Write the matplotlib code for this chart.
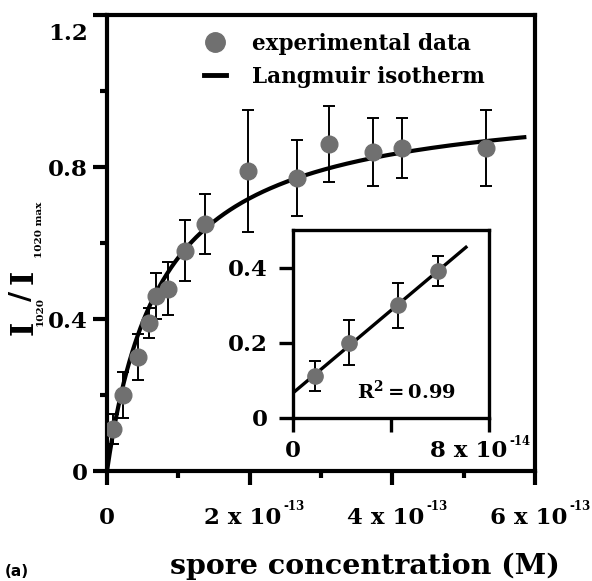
import numpy as np
import matplotlib
matplotlib.use("Agg")
import matplotlib.pyplot as plt
import matplotlib.transforms as mtransforms
from matplotlib.lines import Line2D
from matplotlib.ticker import FixedLocator

# Spore binding data: concentration (M), normalised I1020 signal and its error
conc = np.array([0.09, 0.23, 0.43, 0.59, 0.69, 0.85, 1.10, 1.38,
                 1.97, 2.66, 3.11, 3.73, 4.14, 5.32]) * 1e-13
signal = np.array([0.11, 0.20, 0.30, 0.39, 0.46, 0.48, 0.58, 0.65,
                   0.79, 0.77, 0.86, 0.84, 0.85, 0.85])
signal_err = np.array([0.04, 0.06, 0.06, 0.04, 0.06, 0.07, 0.08, 0.08,
                       0.16, 0.10, 0.10, 0.09, 0.08, 0.10])

# Langmuir isotherm fit parameters
bmax = 0.994
kd = 0.77e-13

# Low-concentration points used for the linear inset
n_low = 4

x_ticks = [0, 2e-13, 4e-13, 6e-13]
x_labels = [("0", ""), ("2 x 10", "-13"), ("4 x 10", "-13"), ("6 x 10", "-13")]
y_ticks = [0, 0.4, 0.8, 1.2]
y_labels = ["0", "0.4", "0.8", "1.2"]
inset_x_ticks = [0, 4e-14, 8e-14]
inset_x_labels = [("0", ""), ("", ""), ("8 x 10", "-14")]
inset_y_ticks = [0, 0.2, 0.4]
inset_y_labels = ["0", "0.2", "0.4"]

plt.rcParams["font.family"] = "DejaVu Serif"
plt.rcParams["font.weight"] = "bold"
plt.rcParams["mathtext.fontset"] = "custom"
plt.rcParams["mathtext.rm"] = "DejaVu Serif:bold"
plt.rcParams["mathtext.bf"] = "DejaVu Serif:bold"

W, H = 592, 581
fig = plt.figure(figsize=(W / 100, H / 100), dpi=100)
renderer = fig.canvas.get_renderer()


def box(left, top, right, bottom):
    return [left / W, 1 - bottom / H, (right - left) / W, (bottom - top) / H]


def sci_ticklabels(axis, ticks, labels, base_dy, sup_dy, size, sup_size, shift):
    # tick labels like "2 x 10^-13" with a small superscript exponent;
    # base + exponent together are centred on the tick (plus shift pixels)
    trans = mtransforms.blended_transform_factory(axis.transData, axis.transAxes)
    for t, (base, sup) in zip(ticks, labels):
        if not base:
            continue
        kw = dict(xy=(t, 0), xycoords=trans, textcoords="offset pixels",
                  fontweight="bold", annotation_clip=False, va="center")
        if not sup:
            axis.annotate(base, xytext=(0, base_dy), ha="center", fontsize=size, **kw)
            continue
        b = axis.annotate(base, xytext=(0, base_dy), ha="left", fontsize=size, **kw)
        s = axis.annotate(sup, xytext=(0, sup_dy), ha="left", fontsize=sup_size, **kw)
        wb = b.get_window_extent(renderer).width
        ws = s.get_window_extent(renderer).width
        left = shift - (wb + 2 + ws) / 2
        b.xyann = (left, base_dy)
        s.xyann = (left + wb + 2, sup_dy)


marker_color = "#707070"

# ---- main plot ----
ax = fig.add_axes(box(107, 15, 535, 471))
xfit = np.linspace(0, 5.85e-13, 300)
ax.plot(xfit, bmax * xfit / (kd + xfit), color="black", lw=3, zorder=2)
ax.errorbar(conc, signal, yerr=signal_err, fmt="o", ms=12, color=marker_color,
            ecolor="black", elinewidth=1.4, capsize=4.3, capthick=1.4, zorder=3)

ax.set_xlim(0, 6e-13)
ax.set_ylim(0, 1.2)
ax.set_xticks(x_ticks)
ax.set_xticklabels([])
ax.set_yticks(y_ticks)
ax.set_yticklabels(y_labels)
ax.xaxis.set_minor_locator(FixedLocator([1e-13, 3e-13, 5e-13]))
ax.yaxis.set_minor_locator(FixedLocator([0.2, 0.6, 1.0]))
for s in ax.spines.values():
    s.set_linewidth(3)
ax.tick_params(which="major", direction="out", length=10, width=3, labelsize=16.5)
ax.tick_params(which="minor", direction="out", length=5, width=3)
ax.tick_params(axis="y", which="major", pad=4)
# top label sits a little below the frame
top_lab = ax.get_yticklabels()[-1]
top_lab.set_transform(top_lab.get_transform() +
                      mtransforms.ScaledTranslation(0, -16 / 100, fig.dpi_scale_trans))
sci_ticklabels(ax, x_ticks, x_labels, -47, -36, 16.5, 8.5, 5)

handles = [Line2D([], [], ls="none", marker="o", ms=14, color=marker_color),
           Line2D([], [], color="black", lw=3.5)]
ax.legend(handles, ["experimental data", "Langmuir isotherm"],
          loc="upper left", bbox_to_anchor=(0.181, 1.003), frameon=False,
          fontsize=15.5, handlelength=1.05, handletextpad=1.2, labelspacing=0.5)

# ---- inset: linear region ----
ins = fig.add_axes(box(292.7, 230, 489.3, 417.7))
slope, intercept = np.polyfit(conc[:n_low], signal[:n_low], 1)
xl = np.linspace(0, 7.05e-14, 50)
ins.plot(xl, intercept + slope * xl, color="black", lw=2.4, zorder=2)
ins.errorbar(conc[:n_low], signal[:n_low], yerr=signal_err[:n_low], fmt="o",
             ms=11, color=marker_color, ecolor="black", elinewidth=1.4,
             capsize=4.3, capthick=1.4, zorder=3)
ins.set_xlim(0, 8e-14)
ins.set_ylim(0, 0.5)
ins.set_xticks(inset_x_ticks)
ins.set_xticklabels([])
ins.set_yticks(inset_y_ticks)
ins.set_yticklabels(inset_y_labels)
for s in ins.spines.values():
    s.set_linewidth(2.4)
ins.tick_params(direction="out", length=10, width=2.4, labelsize=16.5)
ins.tick_params(axis="y", pad=8)
sci_ticklabels(ins, inset_x_ticks, inset_x_labels, -33, -24, 16.5, 8.5, -9)
ins.text(0.58, 0.14, r"$\mathbf{R^2 = 0.99}$", transform=ins.transAxes,
         ha="center", va="center", fontsize=14)

# ---- axis titles ----
fig.text(365 / W, 1 - 566 / H, "spore concentration (M)", ha="center",
         va="center", fontsize=20.5, fontweight="bold")
fig.text(17 / W, 1 - 571 / H, "(a)", ha="center", va="center", fontsize=11,
         fontweight="bold", family="DejaVu Sans")

# rotated y label: I_1020 / I_1020 max
ylab = [("I", 24, 328, 22), ("1020", 40, 311, 7.5), ("/", 23, 296, 20),
        ("I", 24, 277, 22), ("1020 max", 40, 230, 7.5)]
for txt, px, py, size in ylab:
    fig.text(px / W, 1 - py / H, txt, rotation=90, ha="center", va="center",
             fontsize=size, fontweight="bold")

fig.savefig("out.png", dpi=100)
